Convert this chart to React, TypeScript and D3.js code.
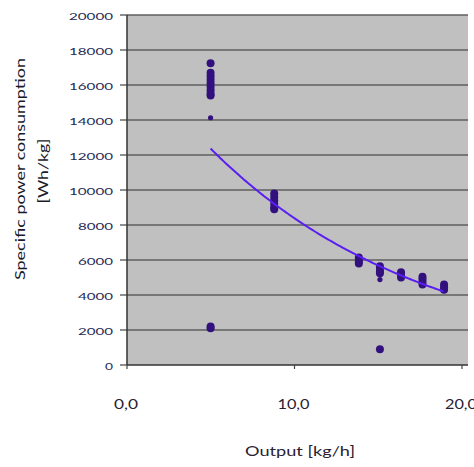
import React from "react";
import * as d3 from "d3";

const xTicks = [0, 10, 20];
const yTicks = [0, 2000, 4000, 6000, 8000, 10000, 12000, 14000, 16000, 18000, 20000];

const outputX = [
  5.05, 5.05, 5.05, 5.05, 5.05, 5.05, 5.05, 5.05, 5.05, 5.05, 5.05,
  8.85, 8.85, 8.85, 8.85, 8.85, 8.85,
  13.9, 13.9, 13.9, 13.9,
  15.16, 15.16, 15.16, 15.16, 15.16,
  16.42, 16.42, 16.42,
  17.7, 17.7, 17.7, 17.7,
  18.99, 18.99, 18.99,
];
const powerY = [
  17250, 16700, 16500, 16300, 16100, 15900, 15700, 15500, 15400, 2100, 2200,
  9800, 9600, 9400, 9200, 9000, 8900,
  6150, 6000, 5900, 5800,
  5650, 5500, 5350, 5250, 900,
  5300, 5150, 5000,
  5050, 4900, 4750, 4600,
  4600, 4450, 4300,
];
// small markers (partial/hidden)
const smallX = [5.05, 15.16];
const smallY = [14130, 4880];

// exponential trend y = a * exp(k x)
const trendA = 18300;
const trendK = -0.0776;
const trendRange = [5.05, 19.0];

export default function App() {
  const W = 474, H = 467;
  const left = 127, right = 468, top = 15, bottom = 365;
  const x = d3.scaleLinear().domain([0, 20]).range([126, 461]);
  const y = d3.scaleLinear().domain([0, 20000]).range([bottom, top]);
  const font = "Lato, 'Open Sans', sans-serif";
  const trendPts = d3.range(trendRange[0], trendRange[1] + 0.001, 0.1).map((v) => [v, trendA * Math.exp(trendK * v)] as [number, number]);
  const line = d3.line<[number, number]>().x((d) => x(d[0])).y((d) => y(d[1]));
  const xFmt = (t: number) => d3.format(".1f")(t).replace(".", ",");
  return (
    <svg width={W} height={H} style={{ position: "absolute", left: 0, top: 0, background: "#fff" }}>
      <rect x={left} y={top} width={right - left} height={bottom - top} fill="#c0c0c0" />
      {yTicks.map((t) => {
        const s = String(t);
        return (
          <g key={t}>
            {t > 0 && <line x1={left} x2={right} y1={y(t)} y2={y(t)} stroke="#5f5f5f" strokeWidth={1.5} />}
            <line x1={120} x2={left} y1={y(t)} y2={y(t)} stroke="#444" strokeWidth={1.2} />
            <text x={113} y={y(t) + 1.5} dy="0.35em" textAnchor="end" fontFamily={font} fontSize={10} fill="#1f2a55"
              textLength={s.length * 9 - 1} lengthAdjust="spacingAndGlyphs">
              {s}
            </text>
          </g>
        );
      })}
      <line x1={left} x2={left} y1={top} y2={bottom} stroke="#333" strokeWidth={1.5} />
      <line x1={left} x2={right} y1={bottom} y2={bottom} stroke="#333" strokeWidth={1.5} />
      {xTicks.map((t) => {
        const s = xFmt(t);
        return (
          <g key={t}>
            <line x1={x(t) + 1} x2={x(t) + 1} y1={bottom} y2={bottom + 4} stroke="#444" strokeWidth={1.2} />
            <text x={x(t)} y={409} textAnchor="middle" fontFamily={font} fontSize={14} fill="#2a2030"
              textLength={s.length * 8} lengthAdjust="spacingAndGlyphs">
              {s}
            </text>
          </g>
        );
      })}
      {outputX.map((v, i) => (
        <circle key={i} cx={x(v)} cy={y(powerY[i])} r={4} fill="#32117e" />
      ))}
      {smallX.map((v, i) => (
        <circle key={"s" + i} cx={x(v)} cy={y(smallY[i])} r={2.6} fill="#32117e" />
      ))}
      <path d={line(trendPts) || ""} fill="none" stroke="#5a1ff0" strokeWidth={2} />
      <text x={300} y={456} textAnchor="middle" fontFamily={font} fontSize={14} fill="#2a2030"
        textLength={110} lengthAdjust="spacingAndGlyphs">
        Output [kg/h]
      </text>
      <text transform="translate(25,169) rotate(-90)" textAnchor="middle" fontFamily={font} fontSize={14} fill="#1a1a2a"
        textLength={222} lengthAdjust="spacingAndGlyphs">
        Specific power consumption
      </text>
      <text transform="translate(48,171) rotate(-90)" textAnchor="middle" fontFamily={font} fontSize={14} fill="#1a1a2a"
        textLength={65} lengthAdjust="spacingAndGlyphs">
        [Wh/kg]
      </text>
    </svg>
  );
}
